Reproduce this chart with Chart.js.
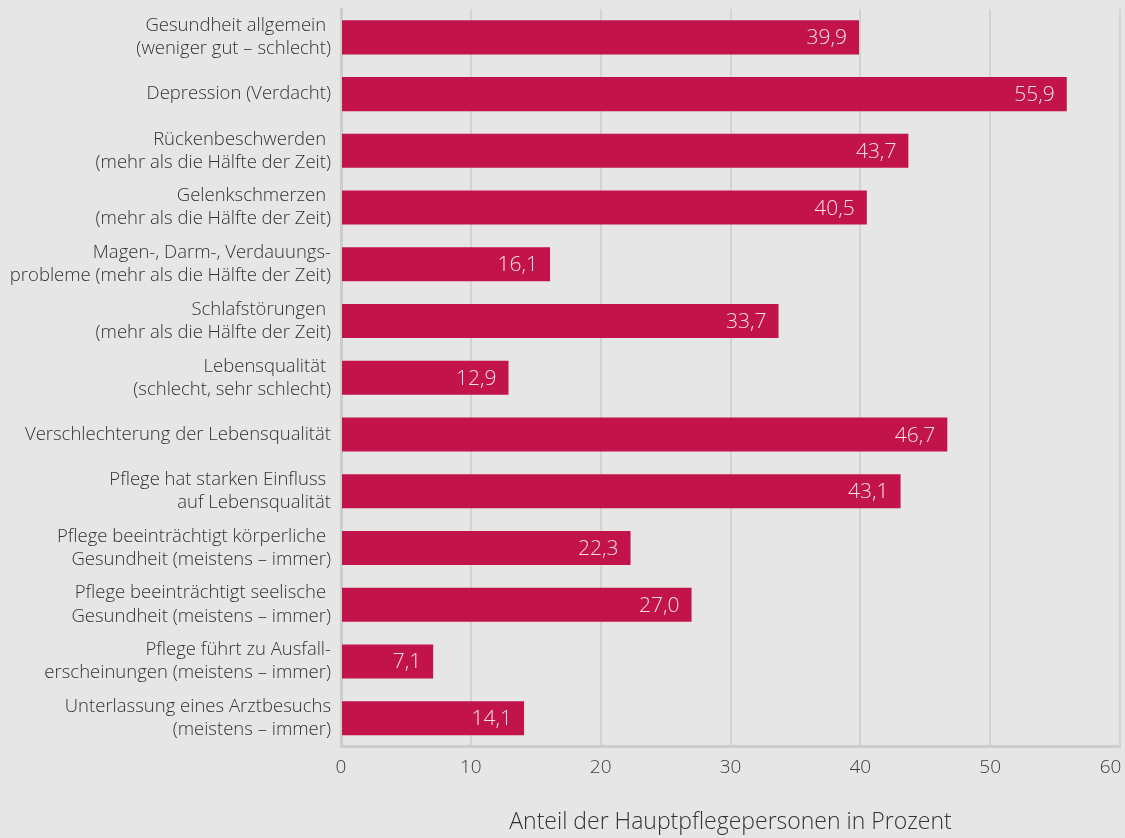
<!DOCTYPE html>
<html lang="de">
<head>
<meta charset="utf-8">
<title>Gesundheitliche Belastung der Hauptpflegepersonen</title>
<script src="https://cdn.jsdelivr.net/npm/chart.js@4"></script>
<style>
    body { margin: 0; background: #e6e6e6; }
    #wrap { width: 1125px; height: 838px; position: relative; }
</style>
</head>
<body>
<div id="wrap"><canvas id="chart"></canvas></div>
<script>
// Kategorien (zweizeilig, wie im Original)
const categories = [
    ['Gesundheit allgemein ', '(weniger gut – schlecht)'],
    ['Depression (Verdacht)'],
    ['Rückenbeschwerden ', '(mehr als die Hälfte der Zeit)'],
    ['Gelenkschmerzen ', '(mehr als die Hälfte der Zeit)'],
    ['Magen-, Darm-, Verdauungs-', 'probleme (mehr als die Hälfte der Zeit)'],
    ['Schlafstörungen ', '(mehr als die Hälfte der Zeit)'],
    ['Lebensqualität ', '(schlecht, sehr schlecht)'],
    ['Verschlechterung der Lebensqualität'],
    ['Pflege hat starken Einfluss ', 'auf Lebensqualität'],
    ['Pflege beeinträchtigt körperliche ', 'Gesundheit (meistens – immer)'],
    ['Pflege beeinträchtigt seelische ', 'Gesundheit (meistens – immer)'],
    ['Pflege führt zu Ausfall-', 'erscheinungen (meistens – immer)'],
    ['Unterlassung eines Arztbesuchs', '(meistens – immer)']
];

// Anteil in Prozent
const values = [39.9, 55.9, 43.7, 40.5, 16.1, 33.7, 12.9, 46.7, 43.1, 22.3, 27.0, 7.1, 14.1];

const xTicks = [0, 10, 20, 30, 40, 50, 60];
const axisTitle = 'Anteil der Hauptpflegepersonen in Prozent';

const FONT = "'Open Sans', 'Noto Sans', sans-serif";
const BAR_COLOR = '#c2134b';

// Werte rechts innen in den Balken schreiben
const valueLabels = {
    id: 'valueLabels',
    afterDatasetsDraw(chart) {
        const ctx = chart.ctx;
        const meta = chart.getDatasetMeta(0);
        ctx.save();
        ctx.font = '300 21px ' + FONT;
        ctx.fillStyle = '#f4dfe6';
        ctx.textAlign = 'right';
        ctx.textBaseline = 'middle';
        meta.data.forEach((bar, i) => {
            const txt = values[i].toFixed(1).replace('.', ',');
            ctx.fillText(txt, bar.x - 12, bar.y + 1);
        });
        ctx.restore();
    }
};

const ctx = document.getElementById('chart').getContext('2d');
new Chart(ctx, {
    type: 'bar',
    data: {
        labels: categories,
        datasets: [{
            data: values,
            backgroundColor: BAR_COLOR,
            borderWidth: 0,
            categoryPercentage: 0.6,
            barPercentage: 1.0
        }]
    },
    options: {
        indexAxis: 'y',
        responsive: true,
        maintainAspectRatio: false,
        animation: false,
        layout: { padding: { top: 9, right: 5, bottom: 2, left: 0 } },
        plugins: {
            legend: { display: false },
            tooltip: { enabled: false }
        },
        scales: {
            x: {
                min: 0,
                max: 60,
                afterBuildTicks(scale) {
                    scale.ticks = xTicks.map(v => ({ value: v }));
                },
                afterFit(scale) {
                    scale.paddingLeft = 0;
                    scale.paddingRight = 0;
                },
                grid: {
                    color: '#d3d3d3',
                    lineWidth: 2,
                    drawTicks: false
                },
                border: { display: true, color: '#cdcdcd', width: 3 },
                ticks: {
                    color: '#3c3c3c',
                    font: { family: FONT, size: 19, weight: '300' },
                    padding: 10,
                    // letztes Label etwas nach links, damit es nicht abgeschnitten wird
                    callback: (v) => v === 60 ? '60\u2003' : String(v)
                },
                title: {
                    display: true,
                    text: axisTitle,
                    color: '#333333',
                    font: { family: FONT, size: 23, weight: '300' },
                    padding: { top: 19, bottom: 0 }
                }
            },
            y: {
                grid: { display: false, drawTicks: false },
                border: { display: true, color: '#cdcdcd', width: 3 },
                afterFit(scale) {
                    scale.width = 341;
                    scale.paddingTop = 0;
                    scale.paddingBottom = 0;
                },
                ticks: {
                    color: '#333333',
                    font: { family: FONT, size: 18.5, weight: '300', lineHeight: 1.25 },
                    padding: 10
                }
            }
        }
    },
    plugins: [valueLabels]
});
</script>
</body>
</html>
